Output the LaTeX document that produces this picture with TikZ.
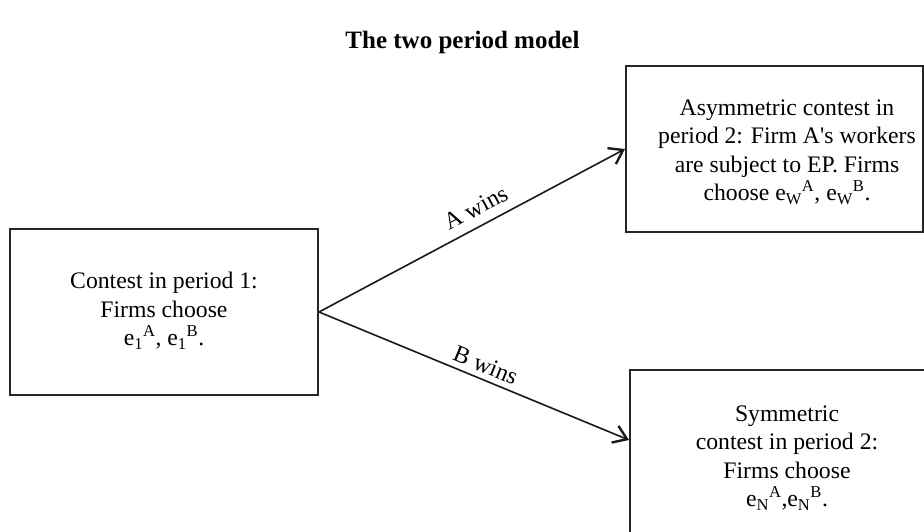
\documentclass[tikz,border=0pt]{standalone}
\usepackage{fontspec}
\setmainfont{Liberation Serif}
\usetikzlibrary{arrows.meta}
\tikzset{
  boxframe/.style={draw=black!85, line width=2pt, inner sep=0pt},
  boxtext/.style={align=center, inner sep=0pt, font=\fontsize{23.7}{28.5}\selectfont},
  conn/.style={line width=1.6pt, draw=black!90, -{Straight Barb[length=13pt,width=18pt,line width=2.4pt]}},
  lbl/.style={font=\fontsize{24}{28}\selectfont, sloped}
}
\begin{document}
\begin{tikzpicture}[x=1pt,y=-1pt]
\clip (0,0) rectangle (924,531);
\useasboundingbox (0,0) rectangle (924,531);
\node[font=\bfseries\fontsize{25}{30}\selectfont, anchor=base] (title) at (462.5,48) {The two period model};
% left box
\node[boxframe, minimum width=308pt, minimum height=166pt] (p1) at (164,312) {};
\node[boxtext] (p1t) at (164,311) {Contest in period 1:\\Firms choose\\e\textsubscript{1}\textsuperscript{A}, e\textsubscript{1}\textsuperscript{B}.};
% top right box
\node[boxframe, minimum width=297pt, minimum height=166pt] (pa) at (774.5,149) {};
\node[boxtext] (pat) at (787,152) {Asymmetric contest in\\period 2: Firm A\textquotesingle s workers\\are subject to EP. Firms\\choose e\textsubscript{W}\textsuperscript{A}, e\textsubscript{W}\textsuperscript{B}.};
% bottom right box (cut off by the frame)
\node[boxframe, minimum width=314pt, minimum height=174pt] (pb) at (787,457) {};
\node[boxtext] (pbt) at (787,458) {Symmetric\\contest in period 2:\\Firms choose\\e\textsubscript{N}\textsuperscript{A},e\textsubscript{N}\textsuperscript{B}.};
\coordinate (pbin) at (pb.west |- 0,440);
% connectors
\draw[conn] (p1.east) -- node[lbl, above=6pt, pos=0.54] (la) {A wins} (pa.west);
\draw[conn] (p1.east) -- node[lbl, above=2pt, pos=0.52] (lb) {B wins} (pbin);
\end{tikzpicture}
\end{document}
